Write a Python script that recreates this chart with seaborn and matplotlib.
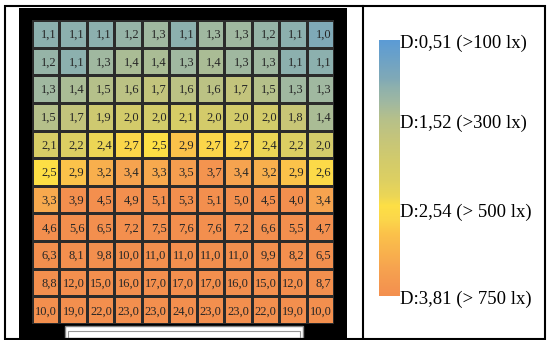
import numpy as np
import matplotlib
matplotlib.use("Agg")
import matplotlib.pyplot as plt
import matplotlib.transforms as mtransforms
from matplotlib.colors import LinearSegmentedColormap, FuncNorm
from matplotlib.patches import Rectangle
from matplotlib.lines import Line2D
import seaborn as sns

# illuminance grid (rows top -> bottom, 11 x 11)
row01 = [1.1, 1.1, 1.1, 1.2, 1.3, 1.1, 1.3, 1.3, 1.2, 1.1, 1.0]
row02 = [1.2, 1.1, 1.3, 1.4, 1.4, 1.3, 1.4, 1.3, 1.3, 1.1, 1.1]
row03 = [1.3, 1.4, 1.5, 1.6, 1.7, 1.6, 1.6, 1.7, 1.5, 1.3, 1.3]
row04 = [1.5, 1.7, 1.9, 2.0, 2.0, 2.1, 2.0, 2.0, 2.0, 1.8, 1.4]
row05 = [2.1, 2.2, 2.4, 2.7, 2.5, 2.9, 2.7, 2.7, 2.4, 2.2, 2.0]
row06 = [2.5, 2.9, 3.2, 3.4, 3.3, 3.5, 3.7, 3.4, 3.2, 2.9, 2.6]
row07 = [3.3, 3.9, 4.5, 4.9, 5.1, 5.3, 5.1, 5.0, 4.5, 4.0, 3.4]
row08 = [4.6, 5.6, 6.5, 7.2, 7.5, 7.6, 7.6, 7.2, 6.6, 5.5, 4.7]
row09 = [6.3, 8.1, 9.8, 10.0, 11.0, 11.0, 11.0, 11.0, 9.9, 8.2, 6.5]
row10 = [8.8, 12.0, 15.0, 16.0, 17.0, 17.0, 17.0, 16.0, 15.0, 12.0, 8.7]
row11 = [10.0, 19.0, 22.0, 23.0, 23.0, 24.0, 23.0, 23.0, 22.0, 19.0, 10.0]

# colour bar: daylight factor thresholds
cbar_values = [0.51, 1.52, 2.54, 3.81]
cbar_labels = ["D:0,51 (>100 lx)", "D:1,52 (>300 lx)",
               "D:2,54 (> 500 lx)", "D:3,81 (> 750 lx)"]
cbar_pos = [0.0, 0.3125, 0.66, 1.0]   # where each threshold sits along the bar

grid = np.array([row01, row02, row03, row04, row05, row06,
                 row07, row08, row09, row10, row11])

norm = FuncNorm((lambda x: np.interp(x, cbar_values, cbar_pos),
                 lambda y: np.interp(y, cbar_pos, cbar_values)),
                vmin=cbar_values[0], vmax=cbar_values[-1])

stops = [(0.51, "#5b9bd5"), (1.0, "#80a9b6"), (1.1, "#8db0ad"),
         (1.3, "#a0b8a0"), (1.5, "#b5c08a"), (1.7, "#c3c47c"),
         (2.0, "#d3cb6a"), (2.2, "#dccf62"), (2.4, "#ecd655"),
         (2.5, "#fddf45"), (2.7, "#fbd64a"), (2.9, "#fbc24a"),
         (3.2, "#f8b04d"), (3.4, "#f6a34f"), (3.7, "#f4944f"),
         (3.81, "#f38f4e")]
cmap = LinearSegmentedColormap.from_list(
    "df", [(float(np.interp(v, cbar_values, cbar_pos)), c) for v, c in stops])

plt.rcParams["font.family"] = ["Liberation Serif", "DejaVu Serif"]

fig = plt.figure(figsize=(5.48, 3.4), dpi=100)

# table frame
fig.add_artist(Rectangle((0.0091, 0.0029), 0.9854, 0.979, transform=fig.transFigure,
                         fill=False, edgecolor="black", linewidth=1.5, zorder=5))
fig.add_artist(Line2D([0.6624, 0.6624], [0.0029, 0.9819], transform=fig.transFigure,
                      color="black", linewidth=1.5, zorder=5))

# black room outline (behind the grid)
fig.add_artist(Rectangle((0.0347, 0.0059), 0.5985, 0.9706, transform=fig.transFigure,
                         facecolor="black", edgecolor="none", zorder=-1))

ax = fig.add_axes([0.0584, 0.0471, 0.551, 0.894])
cax = fig.add_axes([0.6916, 0.1294, 0.0383, 0.7529])

sns.heatmap(grid, ax=ax, cmap=cmap, norm=norm, cbar=True, cbar_ax=cax,
            linewidths=0.8, linecolor="#2b2b2b", square=False,
            xticklabels=False, yticklabels=False)

for i in range(grid.shape[0]):
    for j in range(grid.shape[1]):
        txt = f"{grid[i, j]:.1f}".replace(".", ",")
        ax.text(j + 0.91, i + 0.54, txt, ha="right", va="center",
                fontsize=9, color="#262626")

# window at the bottom
fig.add_artist(Rectangle((0.1186, 0.0059), 0.4343, 0.0353, transform=fig.transFigure,
                         facecolor="white", edgecolor="#888888", linewidth=1, zorder=3))
fig.add_artist(Rectangle((0.1240, 0.0059), 0.4235, 0.0200, transform=fig.transFigure,
                         fill=False, edgecolor="#999999", linewidth=0.8, zorder=3))

cb = ax.collections[0].colorbar
cb.outline.set_visible(False)
cb.set_ticks(cbar_values)
cb.set_ticklabels(cbar_labels)
cb.ax.tick_params(length=0, pad=0, labelsize=13.5)
cb.ax.invert_yaxis()
shift = mtransforms.ScaledTranslation(0, -3 / 100, fig.dpi_scale_trans)
for lbl in cb.ax.get_yticklabels():
    lbl.set_va("center")
    lbl.set_transform(lbl.get_transform() + shift)

fig.savefig("out.png", dpi=100)
